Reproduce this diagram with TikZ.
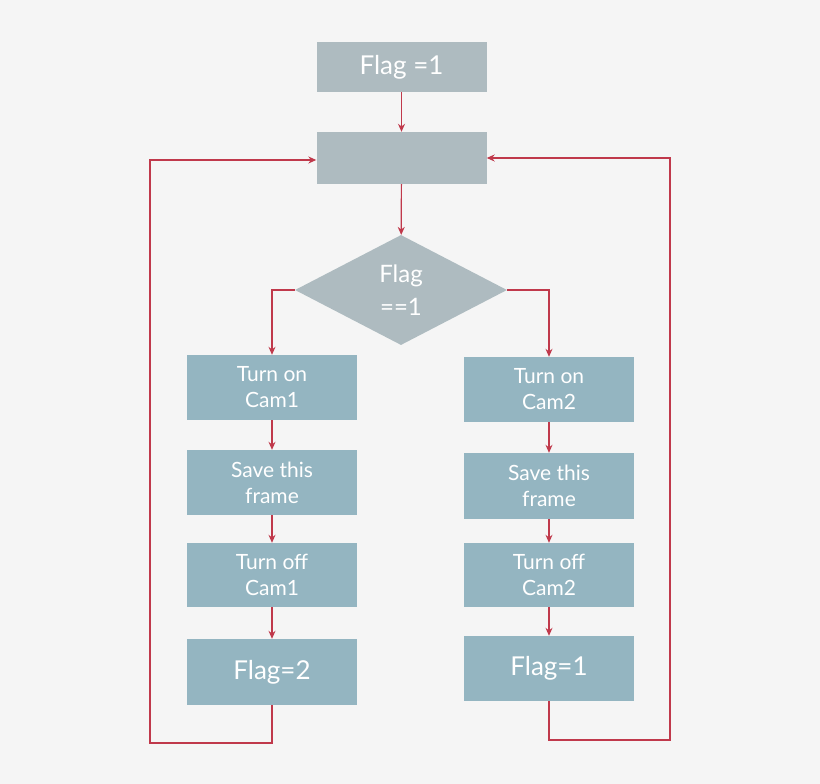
\documentclass[tikz,border=0pt]{standalone}
\usepackage{fontspec}
\setmainfont{Lato}
\usetikzlibrary{arrows.meta}
\usetikzlibrary{shapes.geometric}
\definecolor{bgc}{HTML}{F5F5F5}
\definecolor{boxgray}{HTML}{AEBBC0}
\definecolor{boxblue}{HTML}{94B5C1}
\definecolor{linered}{HTML}{C0394B}

\begin{document}
\begin{tikzpicture}
	[x=1pt,y=-1pt,
	 box/.style={fill=#1, minimum width=170pt, text=white, align=center, font=\fontsize{21}{26}\selectfont, inner sep=0pt},
	 flow/.style={draw=linered, line width=1.2pt, -{Stealth[length=8pt,width=7pt]}}]

	%Frame
	\fill[bgc] (0,0) rectangle (820,784);
	\useasboundingbox (0,0) rectangle (820,784);

	%Top
	\node[box=boxgray, minimum height=50pt, font=\fontsize{26}{30}\selectfont] (start) at (401.5,67) {Flag =1};
	\node[box=boxgray, minimum height=52pt] (wait) at (401.5,158) {};
	\node[diamond, fill=boxgray, aspect=2, minimum width=212pt, minimum height=110pt, inner sep=0pt, text=white, align=center, font=\fontsize{24}{33}\selectfont] (check) at (401,290) {Flag\\==1};

	%Left column
	\node[box=boxblue, minimum height=65pt] (onA) at (272,387.5) {Turn on\\Cam1};
	\node[box=boxblue, minimum height=65pt] (saveA) at (272,482.5) {Save this\\frame};
	\node[box=boxblue, minimum height=64pt] (offA) at (272,575) {Turn off\\Cam1};
	\node[box=boxblue, minimum height=66pt, font=\fontsize{26}{30}\selectfont] (setA) at (272,672) {Flag=2};

	%Right column
	\node[box=boxblue, minimum height=65pt] (onB) at (549,389.5) {Turn on\\Cam2};
	\node[box=boxblue, minimum height=66pt] (saveB) at (549,486) {Save this\\frame};
	\node[box=boxblue, minimum height=64pt] (offB) at (549,575) {Turn off\\Cam2};
	\node[box=boxblue, minimum height=65pt, font=\fontsize{26}{30}\selectfont] (setB) at (549,668.5) {Flag=1};

	\coordinate (loopA1) at (272,743);
	\coordinate (loopA2) at (150,743);
	\coordinate (loopA3) at (150,160);
	\coordinate (loopB1) at (549,740);
	\coordinate (loopB2) at (670,740);
	\coordinate (loopB3) at (670,158);

	%Connectors
	\draw[flow] (start) -- (wait);
	\draw[flow] (wait) -- (check);
	\draw[flow] (check.west) -| (onA);
	\draw[flow] (check.east) -| (onB);
	\draw[flow] (onA) -- (saveA);
	\draw[flow] (saveA) -- (offA);
	\draw[flow] (offA) -- (setA);
	\draw[flow] (onB) -- (saveB);
	\draw[flow] (saveB) -- (offB);
	\draw[flow] (offB) -- (setB);
	\draw[flow] (setA.south) -- (loopA1) -- (loopA2) -- (loopA3) -- (wait.west |- loopA3);
	\draw[flow] (setB.south) -- (loopB1) -- (loopB2) -- (loopB3) -- (wait.east |- loopB3);
\end{tikzpicture}
\end{document}
